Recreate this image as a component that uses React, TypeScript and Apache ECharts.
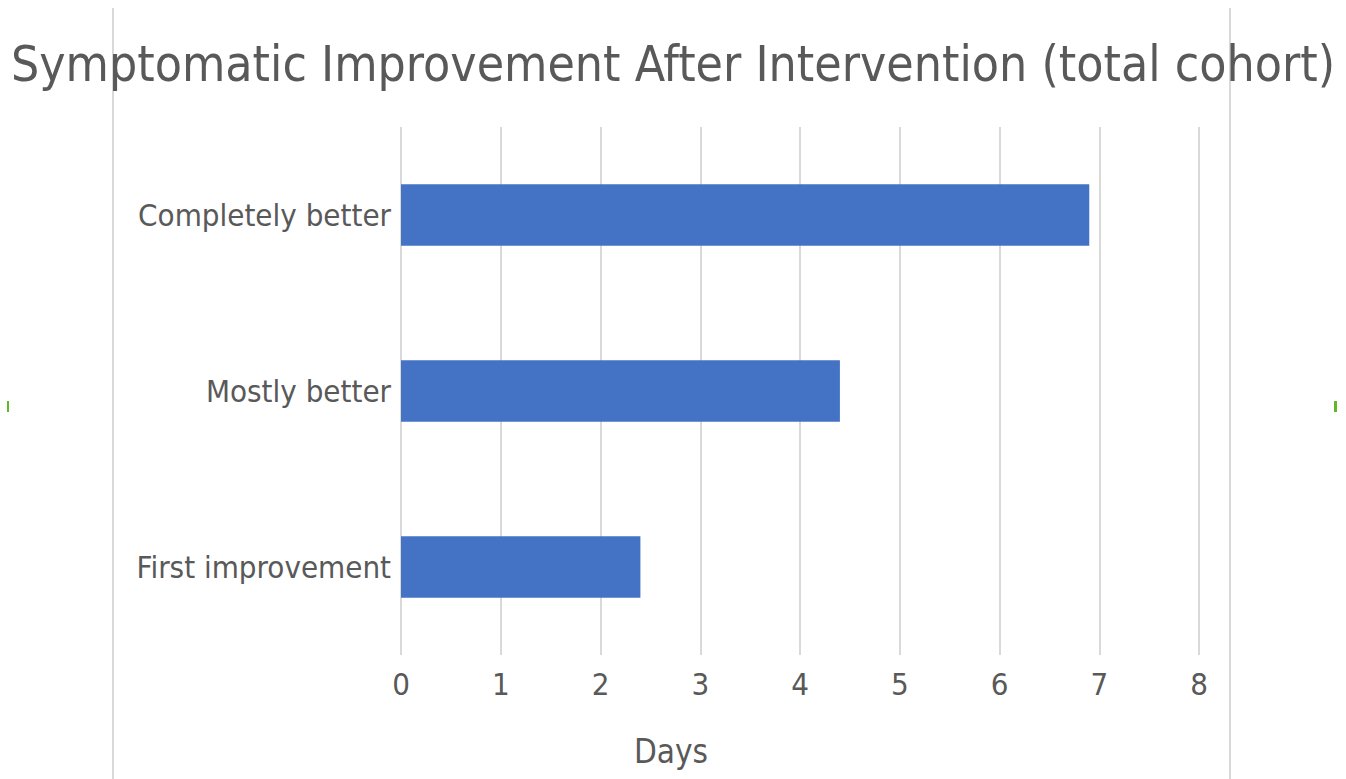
import React, { useEffect, useRef } from "react";
import * as echarts from "echarts";

const categories = ["First improvement", "Mostly better", "Completely better"];
const days = [2.4, 4.4, 6.9];
const xTicks = [0, 1, 2, 3, 4, 5, 6, 7, 8];

const FONT = "'DejaVu Sans Condensed', 'DejaVu Sans', sans-serif";
const TEXT = "#595959";

export default function App() {
  const ref = useRef<HTMLDivElement>(null);
  useEffect(() => {
    const chart = echarts.init(ref.current!, null, { renderer: "svg" });
    chart.setOption({
      animation: false,
      backgroundColor: "#ffffff",
      title: {
        text: "Symptomatic Improvement After Intervention (total cohort)",
        left: "center",
        top: 34,
        textStyle: { fontFamily: FONT, fontSize: 49.5, fontWeight: "normal", color: TEXT },
      },
      grid: { left: 401, right: 147, top: 127, bottom: 124 },
      xAxis: {
        type: "value",
        min: xTicks[0],
        max: xTicks[xTicks.length - 1],
        interval: 1,
        name: "Days",
        nameLocation: "middle",
        nameGap: 80,
        nameTextStyle: { fontFamily: FONT, fontSize: 33, color: TEXT, padding: [0, 258, 0, 0] },
        axisLine: { show: false },
        axisTick: { show: false },
        axisLabel: { fontFamily: FONT, fontSize: 31, color: TEXT, margin: 13 },
        splitLine: { show: true, lineStyle: { color: "#d9d9d9", width: 2 } },
      },
      yAxis: {
        type: "category",
        data: categories,
        axisLine: { show: false },
        axisTick: { show: false },
        axisLabel: { fontFamily: FONT, fontSize: 31, color: TEXT, margin: 10 },
        splitLine: { show: false },
      },
      series: [
        {
          type: "bar",
          data: days,
          barWidth: "35%",
          itemStyle: { color: "#4472C4" },
        },
      ],
      graphic: [
        { type: "line", shape: { x1: 113, y1: 8, x2: 113, y2: 779 }, style: { stroke: "#d9d9d9", lineWidth: 2 } },
        { type: "line", shape: { x1: 1230, y1: 8, x2: 1230, y2: 779 }, style: { stroke: "#d9d9d9", lineWidth: 2 } },
        { type: "rect", shape: { x: 7, y: 401, width: 2, height: 11 }, style: { fill: "#5fb82a" } },
        { type: "rect", shape: { x: 1334, y: 401, width: 3, height: 11 }, style: { fill: "#5fb82a" } },
      ],
    });
    return () => chart.dispose();
  }, []);
  return <div ref={ref} style={{ width: 1346, height: 779, position: "absolute", left: 0, top: 0 }} />;
}
